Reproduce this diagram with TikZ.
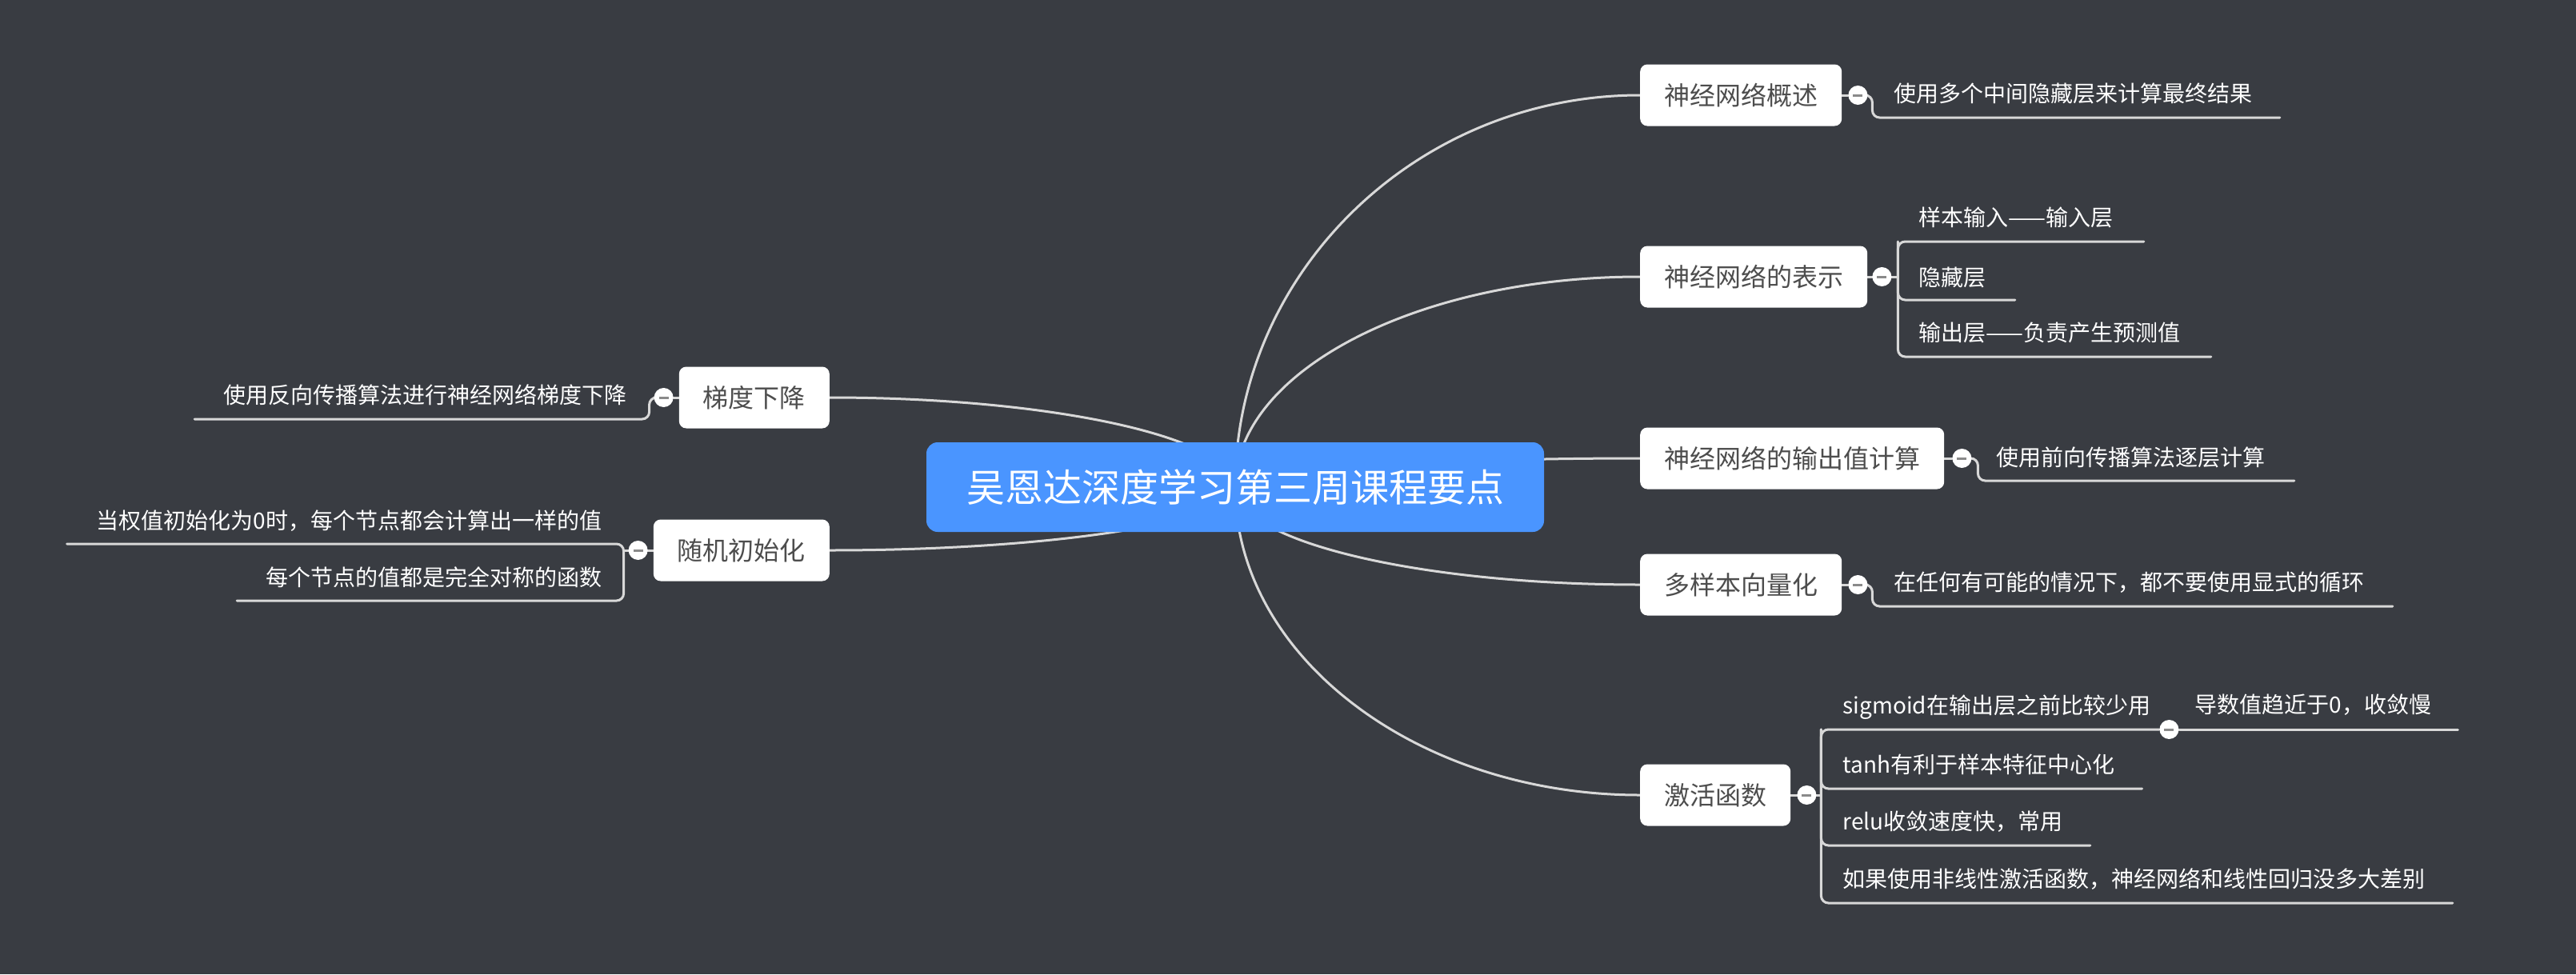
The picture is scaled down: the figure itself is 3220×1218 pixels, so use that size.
\documentclass[tikz,border=0pt]{standalone}
\usepackage{fontspec}
\setmainfont{Noto Sans CJK SC}
\usetikzlibrary{calc}
\pgfdeclarelayer{links}
\pgfsetlayers{links,main}

\definecolor{bgcol}{HTML}{393C42}
\definecolor{linkcol}{HTML}{D8D8D8}
\definecolor{rootcol}{HTML}{4A95FF}
\definecolor{topictext}{HTML}{4D4D4D}
\definecolor{foldmark}{HTML}{8A8A8A}

\tikzset{
  mmlink/.style={draw=linkcol, line width=3pt, line cap=round},
  mmbranch/.style={mmlink, rounded corners=9pt},
  mmroot/.style={fill=rootcol, text=white, rounded corners=14pt,
    minimum width=772pt, minimum height=112pt, inner sep=0pt,
    font=\fontsize{48}{58}\selectfont},
  mmtopic/.style={fill=white, text=topictext, rounded corners=9pt,
    minimum height=77pt, inner xsep=30pt, inner ysep=0pt,
    font=\fontsize{32}{38}\selectfont},
  mmleaf/.style={text=white, inner sep=0pt, text height=24pt, text depth=5pt,
    font=\fontsize{28}{34}\selectfont},
  mmfold/.style={circle, fill=white, minimum size=24pt, inner sep=0pt,
    path picture={\draw[foldmark, line width=3pt]
      ([xshift=6pt]path picture bounding box.west) --
      ([xshift=-6pt]path picture bounding box.east);}},
}

\begin{document}
\begin{tikzpicture}[x=1pt,y=-1pt]
\useasboundingbox (0,0) rectangle (3220,1218);

% central topic
\node[mmroot] (root) at (1544,609) {吴恩达深度学习第三周课程要点};

% main topics, right side
\node[mmtopic, anchor=west] (t1) at (2050,119) {神经网络概述};
\node[mmtopic, anchor=west] (t2) at (2050,346) {神经网络的表示};
\node[mmtopic, anchor=west] (t3) at (2050,573) {神经网络的输出值计算};
\node[mmtopic, anchor=west] (t4) at (2050,731) {多样本向量化};
\node[mmtopic, anchor=west] (t5) at (2050,994) {激活函数};

% main topics, left side
\node[mmtopic, anchor=east] (l1) at (1037,497) {梯度下降};
\node[mmtopic, anchor=east] (l2) at (1037,688) {随机初始化};

% collapse markers
\node[mmfold] (k1) at ($(t1.east)+(20,0)$) {};
\node[mmfold] (k2) at ($(t2.east)+(18,0)$) {};
\node[mmfold] (k3) at ($(t3.east)+(22,0)$) {};
\node[mmfold] (k4) at ($(t4.east)+(20,0)$) {};
\node[mmfold] (k5) at ($(t5.east)+(20,0)$) {};
\node[mmfold] (k7) at ($(l1.west)+(-19,0)$) {};
\node[mmfold] (k8) at ($(l2.west)+(-19,0)$) {};

% sub topics
\node[mmleaf, anchor=west] (s1) at ($(k1)+(45,-1)$) {使用多个中间隐藏层来计算最终结果};

\node[mmleaf, anchor=west] (s2a) at ($(k2)+(46,-73)$) {样本输入——输入层};
\node[mmleaf, anchor=west] (s2b) at ($(k2)+(46,2)$) {隐藏层};
\node[mmleaf, anchor=west] (s2c) at ($(k2)+(46,71)$) {输出层——负责产生预测值};

\node[mmleaf, anchor=west] (s3) at ($(k3)+(43,0)$) {使用前向传播算法逐层计算};

\node[mmleaf, anchor=west] (s4) at ($(k4)+(45,-2)$) {在任何有可能的情况下，都不要使用显式的循环};

\node[mmleaf, anchor=west] (s5a) at ($(k5)+(45,-111)$) {sigmoid在输出层之前比较少用};
\node[mmleaf, anchor=west] (s5b) at ($(k5)+(45,-37)$) {tanh有利于样本特征中心化};
\node[mmleaf, anchor=west] (s5c) at ($(k5)+(45,34)$) {relu收敛速度快，常用};
\node[mmleaf, anchor=west] (s5d) at ($(k5)+(45,106)$) {如果使用非线性激活函数，神经网络和线性回归没多大差别};
\node[mmfold] (k6) at ($(k5)+(453,-82)$) {};
\node[mmleaf, anchor=west] (s6) at ($(k6)+(32,-30)$) {导数值趋近于0，收敛慢};

\node[mmleaf, anchor=east] (s7) at ($(k7)+(-46,-2)$) {使用反向传播算法进行神经网络梯度下降};
\node[mmleaf, anchor=east] (s8a) at ($(k8)+(-45,-36)$) {当权值初始化为0时，每个节点都会计算出一样的值};
\node[mmleaf, anchor=east] (s8b) at ($(k8)+(-45,35)$) {每个节点的值都是完全对称的函数};

% underline end points and bracket joints
\coordinate (u1) at ($(s1.east)+(34,29)$);
\coordinate (u2a) at ($(s2a.east)+(38,29)$);
\coordinate (u2b) at ($(s2b.east)+(36,27)$);
\coordinate (u2c) at ($(s2c.east)+(38,29)$);
\coordinate (x2) at ($(k2)+(20,0)$);
\coordinate (x2top) at (x2 |- u2a);
\coordinate (x2bot) at (x2 |- u2c);
\coordinate (u3) at ($(s3.east)+(36,28)$);
\coordinate (u4) at ($(s4.east)+(35,29)$);
\coordinate (u5b) at ($(s5b.east)+(34,29)$);
\coordinate (u5c) at ($(s5c.east)+(34,29)$);
\coordinate (u5d) at ($(s5d.east)+(34,29)$);
\coordinate (x5) at ($(k5)+(18,0)$);
\coordinate (x5top) at (x5 |- k6);
\coordinate (x5bot) at (x5 |- u5d);
\coordinate (u6) at ($(k6 -| s6.east)+(33,0)$);
\coordinate (u7) at ($(s7.west)+(-36,29)$);
\coordinate (u8a) at ($(s8a.west)+(-37,28)$);
\coordinate (u8b) at ($(s8b.west)+(-36,28)$);
\coordinate (x8) at ($(k8)+(-18,0)$);
\coordinate (x8bot) at (x8 |- u8b);

\begin{pgfonlayer}{links}
\fill[bgcol] (0,0) rectangle (3220,1218);

% curved connectors from the central topic
\foreach \tp in {t1,t2,t3,t4,t5} {
  \draw[mmlink] (root.center)
    .. controls ($(root.center)!0.55!(root.center|-\tp.west)$)
    and ($(\tp.west)!0.55!(root.center|-\tp.west)$) .. (\tp.west);
}
\foreach \tp in {l1,l2} {
  \draw[mmlink] (root.center)
    .. controls ($(root.center)!0.55!(root.center|-\tp.east)$)
    and ($(\tp.east)!0.55!(root.center|-\tp.east)$) .. (\tp.east);
}

% topic to collapse marker
\draw[mmlink] (t1.east) -- (k1);
\draw[mmlink] (t2.east) -- (x2);
\draw[mmlink] (t3.east) -- (k3);
\draw[mmlink] (t4.east) -- (k4);
\draw[mmlink] (t5.east) -- (x5);
\draw[mmlink] (l1.west) -- (k7);
\draw[mmlink] (l2.west) -- (x8);

% sub topic brackets and underlines
\draw[mmbranch] (k1) -- ++(18,0) |- (u1);

\draw[mmbranch] (u2a) -| (x2bot) -- (u2c);
\draw[mmbranch] (x2top) |- (u2b);

\draw[mmbranch] (k3) -- ++(20,0) |- (u3);

\draw[mmbranch] (k4) -- ++(18,0) |- (u4);

\draw[mmbranch] (k6) -| (x5bot) -- (u5d);
\draw[mmbranch] (x5top) |- (u5b);
\draw[mmbranch] (x5top) |- (u5c);
\draw[mmlink] (k6) -- (u6);

\draw[mmbranch] (k7) -- ++(-18,0) |- (u7);

\draw[mmbranch] (u8a) -| (x8bot) -- (u8b);
\end{pgfonlayer}
\end{tikzpicture}
\end{document}
